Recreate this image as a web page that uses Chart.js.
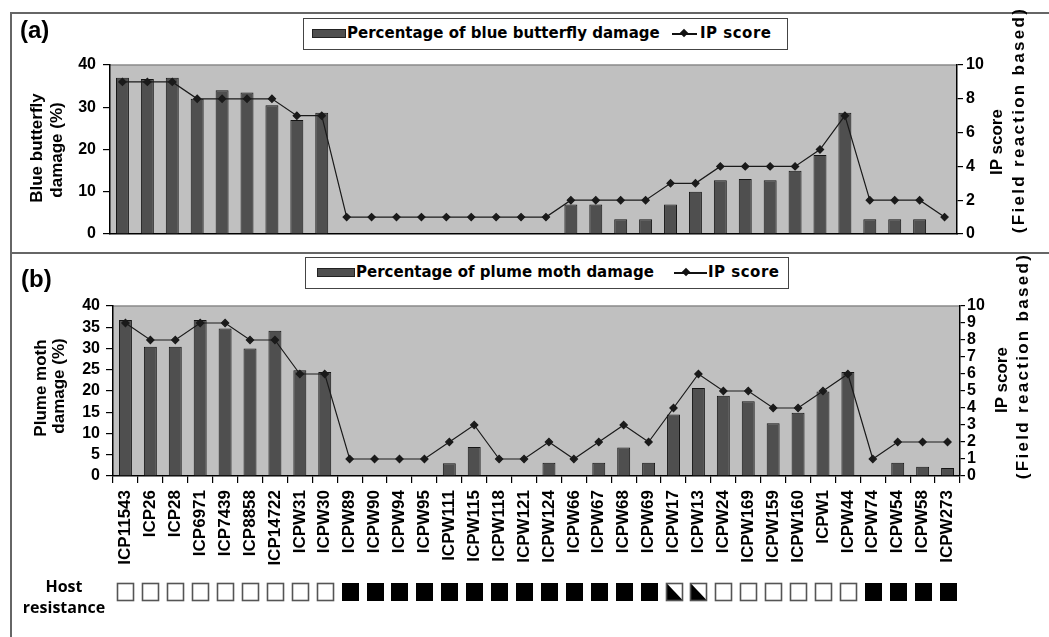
<!DOCTYPE html>
<html>
<head>
<meta charset="utf-8">
<script src="https://cdn.jsdelivr.net/npm/chart.js@4.4.1/dist/chart.umd.min.js"></script>
<style>
  body { margin: 0; width: 1049px; height: 637px; background: #fff; position: relative; overflow: hidden;
         font-family: "Liberation Sans", Arial, sans-serif; }
  .wrap { position: absolute; left: 0; width: 1049px; }
  #wrapA { top: 0; height: 250px; }
  #wrapB { top: 250px; height: 387px; }
  .hline { position: absolute; height: 2px; background: #666; }
  .vline { position: absolute; width: 2px; background: #666; }
  .panel { position: absolute; font-weight: bold; font-size: 24px; }
  .legend { position: absolute; box-sizing: border-box; height: 32px; border: 1.5px solid #444; background: #fff;
            font-family: "DejaVu Sans", sans-serif; font-weight: bold; font-size: 15px; }
  .legend span { position: absolute; top: 6px; white-space: nowrap; line-height: 16px; }
  .swatch { position: absolute; top: 10px; width: 32px; height: 7px; background: #4f4f4f; border: 1px solid #222; }
  .lsample { position: absolute; top: 14px; width: 25px; height: 1.5px; background: #111; }
  .lsample::after { content: ""; position: absolute; left: 9px; top: -3px; width: 6px; height: 6px; background: #111; transform: rotate(45deg); }
  .ytitle { position: absolute; font-weight: bold; font-size: 17px; white-space: nowrap;
            transform: translate(-50%, -50%) rotate(-90deg); }
  .host { position: absolute; font-family: "Open Sans", sans-serif; font-weight: bold; font-size: 16px; line-height: 21px; text-align: center; }
</style>
</head>
<body>
<div class="hline" style="left:10px; top:12px; width:1039px;"></div>
<div class="hline" style="left:10px; top:252px; width:1039px;"></div>
<div class="vline" style="left:10px; top:12px; height:625px;"></div>

<div class="wrap" id="wrapA"><canvas id="chartA"></canvas></div>
<div class="wrap" id="wrapB"><canvas id="chartB"></canvas></div>

<div class="panel" style="left:20px; top:16px;">(a)</div>
<div class="panel" style="left:21px; top:265px;">(b)</div>

<div class="legend" style="left:303px; top:18px; width:485px;">
  <div class="swatch" style="left:8px;"></div>
  <span style="left:43px;">Percentage of blue butterfly damage</span>
  <div class="lsample" style="left:368px;"></div>
  <span style="left:396px; letter-spacing:0.5px;">IP score</span>
</div>
<div class="legend" style="left:305px; top:257px; width:484px;">
  <div class="swatch" style="left:11px; width:36px;"></div>
  <span style="left:50px;">Percentage of plume moth damage</span>
  <div class="lsample" style="left:368px; width:33px;"></div>
  <span style="left:402px; letter-spacing:0.5px;">IP score</span>
</div>

<div class="ytitle" style="left:37px; top:148px;">Blue butterfly</div>
<div class="ytitle" style="left:57px; top:150px;">damage (%)</div>
<div class="ytitle" style="left:997px; top:142px;">IP score</div>
<div class="ytitle" style="left:1019px; top:120px; letter-spacing:2.3px;">(Field reaction based)</div>

<div class="ytitle" style="left:41px; top:388px;">Plume moth</div>
<div class="ytitle" style="left:59px; top:386px;">damage (%)</div>
<div class="ytitle" style="left:1002px; top:380px;">IP score</div>
<div class="ytitle" style="left:1023px; top:366px; letter-spacing:2.3px;">(Field reaction based)</div>

<div class="host" style="left:16px; top:576px; width:96px;">Host<br>resistance</div>

<script>
const genotypes = ['ICP11543','ICP26','ICP28','ICP6971','ICP7439','ICP8858','ICP14722','ICPW31','ICPW30',
  'ICPW89','ICPW90','ICPW94','ICPW95','ICPW111','ICPW115','ICPW118','ICPW121','ICPW124','ICPW66',
  'ICPW67','ICPW68','ICPW69','ICPW17','ICPW13','ICPW24','ICPW169','ICPW159','ICPW160','ICPW1',
  'ICPW44','ICPW74','ICPW54','ICPW58','ICPW273'];

// (a) blue butterfly
const blueDamage = [37, 36.7, 37, 32, 34, 33.5, 30.5, 27, 28.7,
  null, null, null, null, null, null, null, null, null,
  7, 7, 3.5, 3.5, 7, 10, 12.7, 13, 12.7, 15, 18.7, 28.7, 3.5, 3.5, 3.5, null];
const blueIP = [9, 9, 9, 8, 8, 8, 8, 7, 7,
  1, 1, 1, 1, 1, 1, 1, 1, 1,
  2, 2, 2, 2, 3, 3, 4, 4, 4, 4, 5, 7, 2, 2, 2, 1];

// (b) plume moth
const plumeDamage = [36.7, 30.4, 30.4, 36.7, 34.7, 30, 34.2, 24.9, 24.5,
  null, null, null, null, 3, 6.8, null, null, 3.1, null, 3.1, 6.7, 3.1,
  14.5, 20.7, 18.9, 17.6, 12.4, 14.9, 19.9, 24.5, null, 3.1, 2.2, 1.9];
const plumeIP = [9, 8, 8, 9, 9, 8, 8, 6, 6,
  1, 1, 1, 1, 2, 3, 1, 1, 2, 1, 2, 3, 2,
  4, 6, 5, 5, 4, 4, 5, 6, 1, 2, 2, 2];

// host resistance row
const hostResistance = ['open','open','open','open','open','open','open','open','open',
  'solid','solid','solid','solid','solid','solid','solid','solid','solid','solid','solid','solid','solid',
  'half','half','open','open','open','open','open','open','solid','solid','solid','solid'];

const tickFont = { family: '"Liberation Sans", Arial, sans-serif', weight: 'bold', size: 16, lineHeight: 1 };

const plotBg = {
  id: 'plotBg',
  beforeDraw(chart) {
    const { ctx, chartArea: a } = chart;
    ctx.save();
    ctx.fillStyle = '#c0c0c0';
    ctx.fillRect(a.left, a.top, a.right - a.left, a.bottom - a.top);
    ctx.strokeStyle = '#8a8a8a';
    ctx.lineWidth = 1.5;
    ctx.beginPath();
    ctx.moveTo(a.left, a.top);
    ctx.lineTo(a.right, a.top);
    ctx.stroke();
    ctx.restore();
  }
};

const hostRow = {
  id: 'hostRow',
  afterDraw(chart) {
    const ctx = chart.ctx;
    const x = chart.scales.x;
    const top = 333, w = 16, h = 17;
    ctx.save();
    hostResistance.forEach((kind, i) => {
      const cx = x.getPixelForValue(i);
      const l = Math.round(cx - w / 2) + 0.5;
      if (kind === 'solid') {
        ctx.fillStyle = '#000';
        ctx.fillRect(l - 0.5, top, w + 1, h + 1);
      } else {
        ctx.fillStyle = '#fff';
        ctx.fillRect(l, top, w, h);
        if (kind === 'half') {
          ctx.fillStyle = '#000';
          ctx.beginPath();
          ctx.moveTo(l, top);
          ctx.lineTo(l + w, top + h);
          ctx.lineTo(l, top + h);
          ctx.closePath();
          ctx.fill();
        }
        ctx.strokeStyle = '#555';
        ctx.lineWidth = 1.6;
        ctx.strokeRect(l, top + 0.5, w, h);
      }
    });
    ctx.restore();
  }
};

function barSet(label, data) {
  return {
    type: 'bar', label, data, yAxisID: 'y', order: 1,
    backgroundColor: '#4f4f4f', borderColor: '#151515', borderWidth: 1,
    barPercentage: 0.52, categoryPercentage: 1
  };
}
function lineSet(data) {
  return {
    type: 'line', label: 'IP score', data, yAxisID: 'y1', order: 0,
    borderColor: '#1a1a1a', borderWidth: 1.2, tension: 0,
    pointStyle: 'rectRot', pointRadius: 3.6, pointBackgroundColor: '#1a1a1a', pointBorderColor: '#1a1a1a'
  };
}

function yAxis(pos, max, step, width, tickLen, pad) {
  return {
    position: pos, min: 0, max,
    ticks: { stepSize: step, autoSkip: false, maxTicksLimit: 30, color: '#000', font: tickFont, padding: pad },
    grid: { drawOnChartArea: false, tickLength: tickLen, color: '#000', lineWidth: 1.2 },
    border: { color: '#000', width: 1.5 },
    afterFit: s => { s.width = width; }
  };
}

Chart.defaults.animation = false;

new Chart(document.getElementById('chartA'), {
  data: {
    labels: genotypes,
    datasets: [lineSet(blueIP), barSet('Percentage of blue butterfly damage', blueDamage)]
  },
  options: {
    responsive: true, maintainAspectRatio: false,
    layout: { padding: { top: 65, left: 0, right: 0, bottom: 0 } },
    plugins: { legend: { display: false }, tooltip: { enabled: false } },
    scales: {
      x: {
        offset: true,
        ticks: { display: false },
        grid: { display: false },
        border: { color: '#000', width: 1.5 },
        afterFit: s => { s.height = 16; }
      },
      y: yAxis('left', 40, 10, 110, 7, 7),
      y1: yAxis('right', 10, 2, 92, 6, 3)
    }
  },
  plugins: [plotBg]
});

new Chart(document.getElementById('chartB'), {
  data: {
    labels: genotypes,
    datasets: [lineSet(plumeIP), barSet('Percentage of plume moth damage', plumeDamage)]
  },
  options: {
    responsive: true, maintainAspectRatio: false,
    layout: { padding: { top: 56, left: 0, right: 0, bottom: 0 } },
    plugins: { legend: { display: false }, tooltip: { enabled: false } },
    scales: {
      x: {
        offset: true,
        ticks: { autoSkip: false, maxRotation: 90, minRotation: 90, color: '#000', padding: 7,
                 font: { family: '"Liberation Sans", Arial, sans-serif', weight: 'bold', size: 17 } },
        grid: { offset: true, drawOnChartArea: false, tickLength: 7, color: '#000', lineWidth: 1.2 },
        border: { color: '#000', width: 1.5 },
        afterFit: s => { s.height = 161; }
      },
      y: yAxis('left', 40, 5, 113, 7, 6),
      y1: yAxis('right', 10, 1, 89, 5, 2)
    }
  },
  plugins: [plotBg, hostRow]
});
</script>
</body>
</html>
